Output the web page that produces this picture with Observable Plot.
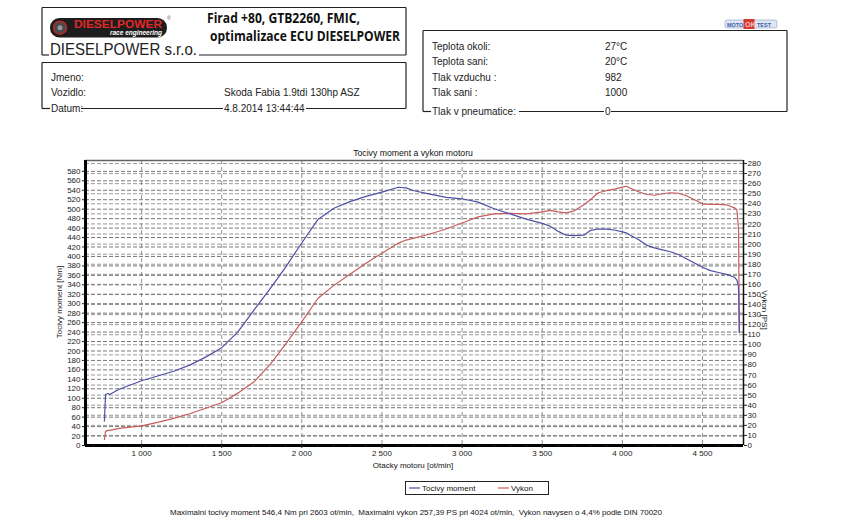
<!DOCTYPE html>
<html>
<head>
<meta charset="utf-8">
<script src="https://cdn.jsdelivr.net/npm/d3@7"></script>
<script src="https://cdn.jsdelivr.net/npm/@observablehq/plot@0.6"></script>
<style>
  html, body { margin: 0; padding: 0; background: #fff; }
  #page { position: relative; width: 850px; height: 527px; overflow: hidden; font-family: "Liberation Sans", Arial, sans-serif; }
  #page > svg { position: absolute; left: 0; top: 0; }
</style>
</head>
<body>
<div id="page"></div>
<script>
// ---- data ----
const rpm = [768, 775, 790, 800, 860, 1000, 1100, 1200, 1300, 1400, 1500, 1600, 1700, 1800, 1900, 2000, 2100, 2200, 2300, 2400, 2500, 2603, 2650, 2700, 2800, 2900, 3000, 3100, 3200, 3300, 3400, 3500, 3550, 3600, 3650, 3700, 3760, 3800, 3850, 3900, 3950, 4000, 4024, 4050, 4100, 4150, 4200, 4250, 4300, 4350, 4400, 4450, 4500, 4550, 4600, 4650, 4700, 4715, 4725, 4730];
const torqueNm = [52, 108, 110, 108, 119, 137, 147, 157, 170, 187, 207, 240, 286, 331, 378, 429, 478, 502, 516, 527, 536, 546.4, 545, 539, 532, 525, 522, 515, 501, 490, 479, 470, 464, 453, 445, 444, 445, 455, 458, 458, 456, 452, 450, 445, 436, 424, 418, 414, 410, 404, 395, 386, 377, 370, 366, 362, 356, 350, 335, 240];
const powerPS = [6, 14, 15, 15, 17, 19.5, 23, 27, 31.5, 37, 42.5, 52, 63, 80, 101, 123, 146, 159, 170, 181, 191, 201, 204, 206, 210, 215, 221, 227, 230, 230.5, 230, 232, 233.5, 232, 231, 233, 239, 244, 251, 253, 254.5, 256.5, 257.4, 255.5, 252, 249.5, 248.5, 250, 251, 250.5, 248, 244, 240, 239.5, 239.5, 239, 236, 234, 215, 112];

const nmTicks = d3.range(0, 581, 20);
const psTicks = d3.range(0, 281, 10);
const rpmTicks = [1000, 1500, 2000, 2500, 3000, 3500, 4000, 4500];
const rpmMinor = d3.range(700, 4800, 100);

const seriesNames = ["Tocivy moment", "Vykon"];
const seriesColors = ["#4f4fa6", "#c75c5c"];

const headerInfoLeft = [["Jmeno:", ""], ["Vozidlo:", "Skoda Fabia 1.9tdi 130hp ASZ"], ["Datum:", "4.8.2014 13:44:44"]];
const headerInfoRight = [["Teplota okoli:", "27°C"], ["Teplota sani:", "20°C"], ["Tlak vzduchu :", "982"], ["Tlak sani :", "1000"], ["Tlak v pneumatice:", "0"]];
const footerText = "Maximalni tocivy moment 546,4 Nm pri 2603 ot/min,  Maximalni vykon 257,39 PS pri 4024 ot/min,  Vykon navysen o 4,4% podle DIN 70020";

// ---- scales ----
const nmTop = 603, psTop = 283;
const k = nmTop / psTop; // PS -> left-scale units
const rows = rpm.map((r, i) => ({rpm: r, nm: torqueNm[i], ps: powerPS[i]}));
const fmtRpm = d => d3.format(",")(d).replace(/,/g, " ");

const chart = Plot.plot({
  width: 850, height: 527,
  marginLeft: 85, marginRight: 107, marginTop: 160, marginBottom: 82,
  x: {domain: [650, 4756]},
  y: {domain: [0, nmTop]},
  style: {fontFamily: "'Liberation Sans', Arial, sans-serif", fontSize: "8px", background: "transparent", color: "#222"},
  marks: [
    Plot.ruleY(psTicks.filter(d => d > 0).map(d => d * k), {stroke: "#9a9a9a", strokeDasharray: "4,2", strokeWidth: 1}),
    Plot.ruleY(nmTicks.filter(d => d > 0), {stroke: "#777", strokeDasharray: "4,2", strokeWidth: 1}),
    Plot.ruleX(rpmTicks, {stroke: "#777", strokeDasharray: "4,3", strokeWidth: 0.8}),
    Plot.ruleY([nmTop], {stroke: "#666", strokeWidth: 1.5}),
    Plot.ruleX([4756], {stroke: "#111", strokeWidth: 1.5}),
    Plot.line(rows, {x: "rpm", y: d => d.ps * k, stroke: seriesColors[1], strokeWidth: 1.2}),
    Plot.line(rows, {x: "rpm", y: "nm", stroke: seriesColors[0], strokeWidth: 1.2}),
    Plot.ruleX([650], {stroke: "#000", strokeWidth: 3}),
    Plot.ruleY([0], {stroke: "#000", strokeWidth: 3}),
    Plot.axisY(nmTicks, {anchor: "left", tickSize: 3, tickPadding: 2, label: null}),
    Plot.axisY(psTicks.map(d => d * k), {anchor: "right", tickSize: 3, tickPadding: 1, tickFormat: d => Math.round(d / k), label: null}),
    Plot.axisX(rpmMinor, {tickSize: 2, tickFormat: () => "", label: null}),
    Plot.axisX(rpmTicks, {tickSize: 3, tickPadding: 2, tickFormat: fmtRpm, label: null})
  ]
});
const page = document.getElementById("page");
page.appendChild(chart);

// ---- overlay: header, titles, legend, footer ----
const ns = "http://www.w3.org/2000/svg";
const ov = document.createElementNS(ns, "svg");
ov.setAttribute("width", 850); ov.setAttribute("height", 527);
ov.setAttribute("font-family", "'Liberation Sans', Arial, sans-serif");
page.appendChild(ov);
function el(tag, attrs, text) {
  const e = document.createElementNS(ns, tag);
  for (const a in attrs) e.setAttribute(a, attrs[a]);
  if (text != null) e.textContent = text;
  ov.appendChild(e);
  return e;
}
function line(x1, y1, x2, y2, w = 1.2) { return el("line", {x1, y1, x2, y2, stroke: "#222", "stroke-width": w}); }

// Box 1 (logo + title)
line(42, 7.5, 406, 7.5); line(42, 7.5, 42, 55); line(406, 7.5, 406, 55);
line(42, 55, 49, 55); line(199, 55, 406, 55);
// logo
el("rect", {x: 50, y: 18, width: 117, height: 19.5, rx: 9.5, fill: "#1d1d1d"});
el("circle", {cx: 60, cy: 27.7, r: 6.5, fill: "#4a4a4a", stroke: "#b52a2a", "stroke-width": 1.5});
el("circle", {cx: 60, cy: 27.7, r: 2.5, fill: "#999"});
el("text", {x: 74, y: 28, fill: "#e02828", "font-size": 11, "font-weight": "bold", textLength: 88, lengthAdjust: "spacingAndGlyphs"}, "DIESELPOWER");
el("text", {x: 162, y: 35, fill: "#ffffff", "font-size": 6.5, "font-style": "italic", "font-weight": "bold", "text-anchor": "end"}, "race engineering");
el("text", {x: 167, y: 20, fill: "#555", "font-size": 5}, "®");
el("text", {x: 50, y: 55, fill: "#222", "font-size": 17, textLength: 147, lengthAdjust: "spacingAndGlyphs"}, "DIESELPOWER s.r.o.");
el("text", {x: 207, y: 23, fill: "#111", "font-size": 14, "font-weight": "bold", textLength: 153, lengthAdjust: "spacingAndGlyphs", "font-family": "'Open Sans', 'Noto Sans', sans-serif"}, "Firad +80, GTB2260, FMIC,");
el("text", {x: 210, y: 41, fill: "#111", "font-size": 14, "font-weight": "bold", textLength: 190, lengthAdjust: "spacingAndGlyphs", "font-family": "'Open Sans', 'Noto Sans', sans-serif"}, "optimalizace ECU DIESELPOWER");

// Box 2 (vehicle info)
line(42, 62.5, 406, 62.5); line(42, 62.5, 42, 108.5); line(406, 62.5, 406, 108.5);
line(42, 108.5, 50, 108.5); line(81, 108.5, 223, 108.5); line(306, 108.5, 406, 108.5);
const lb = [81, 96, 111.5];
headerInfoLeft.forEach(([l, v], i) => {
  el("text", {x: 51, y: lb[i], fill: "#222", "font-size": 10}, l);
  if (v) el("text", {x: 224, y: lb[i], fill: "#222", "font-size": 10}, v);
});

// Box 3 (conditions)
line(423, 30.5, 787, 30.5); line(423, 30.5, 423, 111.5); line(787, 30.5, 787, 111.5);
line(423, 111.5, 431, 111.5); line(519, 111.5, 604, 111.5); line(611, 111.5, 787, 111.5);
const rb = [50, 65, 80.5, 95.5, 115];
headerInfoRight.forEach(([l, v], i) => {
  el("text", {x: 432, y: rb[i], fill: "#222", "font-size": 10}, l);
  el("text", {x: 605, y: rb[i], fill: "#222", "font-size": 10}, v);
});

// MOTO OK TEST badge
el("rect", {x: 725, y: 20, width: 52, height: 8, rx: 2, fill: "#dfe6f3", stroke: "#8aa0c8", "stroke-width": 0.6});
el("text", {x: 727, y: 26.5, fill: "#3b5da8", "font-size": 5.5, "font-weight": "bold"}, "MOTO");
el("rect", {x: 743.5, y: 19, width: 11, height: 10, fill: "#d83a2e"});
el("text", {x: 745, y: 27, fill: "#f6c0c0", "font-size": 7, "font-weight": "bold"}, "OK");
el("text", {x: 757, y: 26.5, fill: "#3b5da8", "font-size": 5.5, "font-weight": "bold"}, "TEST");

// chart titles
el("text", {x: 413, y: 156, "font-size": 8.7, "text-anchor": "middle", fill: "#111"}, "Tocivy moment a vykon motoru");
el("text", {x: 413, y: 468, "font-size": 8, "text-anchor": "middle", fill: "#111"}, "Otacky motoru [ot/min]");
el("text", {x: 0, y: 0, "font-size": 8, "text-anchor": "middle", fill: "#222", transform: "translate(62,302) rotate(-90)"}, "Tocivy moment [Nm]");
el("text", {x: 0, y: 0, "font-size": 8, "text-anchor": "middle", fill: "#222", transform: "translate(762,310) rotate(90)"}, "Vykon [PS]");

// legend
el("rect", {x: 405.5, y: 481.5, width: 143, height: 13, fill: "none", stroke: "#222", "stroke-width": 1});
line(409, 488, 420, 488).setAttribute("stroke", seriesColors[0]);
el("text", {x: 422, y: 491, "font-size": 8, fill: "#111"}, seriesNames[0]);
line(498, 488, 509, 488).setAttribute("stroke", seriesColors[1]);
el("text", {x: 511, y: 491, "font-size": 8, fill: "#111"}, seriesNames[1]);

// footer
el("text", {x: 170, y: 515, "font-size": 7.8, fill: "#111", textLength: 492, lengthAdjust: "spacingAndGlyphs", style: "white-space:pre"}, footerText);
</script>
</body>
</html>
